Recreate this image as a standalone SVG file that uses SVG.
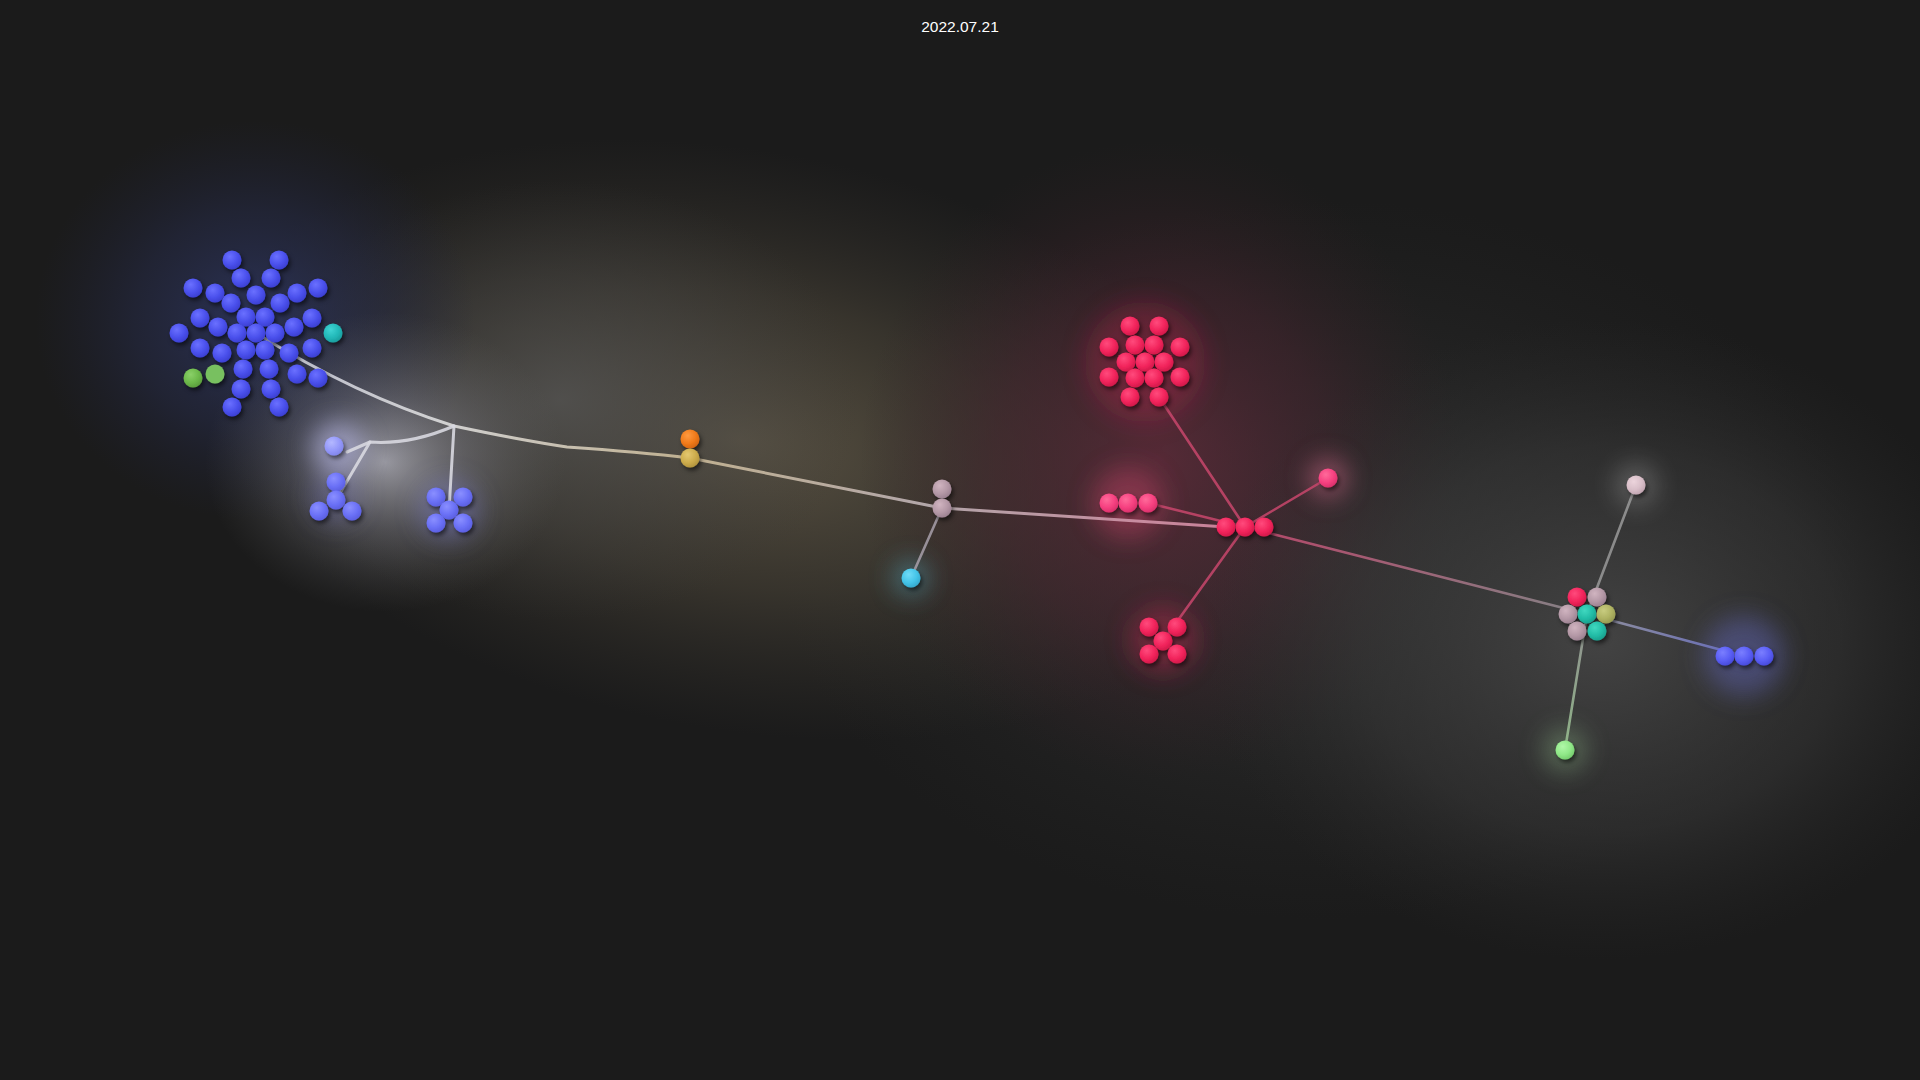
<svg xmlns="http://www.w3.org/2000/svg" width="1920" height="1080" viewBox="0 0 1920 1080">
<defs>
<radialGradient id="bgBrown" cx="0.5" cy="0.5" r="0.5"><stop offset="0" stop-color="#5e5646" stop-opacity="0.95"/><stop offset="0.5" stop-color="#4a4438" stop-opacity="0.6"/><stop offset="1" stop-color="#3a3630" stop-opacity="0"/></radialGradient>
<radialGradient id="bgGrayL" cx="0.5" cy="0.5" r="0.5"><stop offset="0" stop-color="#555555" stop-opacity="0.75"/><stop offset="0.55" stop-color="#464646" stop-opacity="0.4"/><stop offset="1" stop-color="#3a3a3a" stop-opacity="0"/></radialGradient>
<radialGradient id="bgBlue" cx="0.5" cy="0.5" r="0.5"><stop offset="0" stop-color="#2e3660" stop-opacity="0.9"/><stop offset="0.55" stop-color="#262b48" stop-opacity="0.55"/><stop offset="1" stop-color="#20233a" stop-opacity="0"/></radialGradient>
<radialGradient id="bgWhite" cx="0.5" cy="0.5" r="0.5"><stop offset="0" stop-color="#c4c4d0" stop-opacity="0.7"/><stop offset="0.45" stop-color="#8e8e9a" stop-opacity="0.38"/><stop offset="1" stop-color="#666" stop-opacity="0"/></radialGradient>
<radialGradient id="bgRed" cx="0.5" cy="0.5" r="0.5"><stop offset="0" stop-color="#5a2a38" stop-opacity="0.9"/><stop offset="0.55" stop-color="#45242e" stop-opacity="0.55"/><stop offset="1" stop-color="#302024" stop-opacity="0"/></radialGradient>
<radialGradient id="bgGray" cx="0.5" cy="0.5" r="0.5"><stop offset="0" stop-color="#474747" stop-opacity="0.9"/><stop offset="0.6" stop-color="#383838" stop-opacity="0.55"/><stop offset="1" stop-color="#2a2a2a" stop-opacity="0"/></radialGradient>
<radialGradient id="bgMid" cx="0.5" cy="0.5" r="0.5"><stop offset="0" stop-color="#363636" stop-opacity="0.85"/><stop offset="1" stop-color="#2a2a2a" stop-opacity="0"/></radialGradient>
<filter id="glow" x="-100%" y="-100%" width="300%" height="300%"><feGaussianBlur stdDeviation="12"/></filter>
<filter id="shadow" x="-50%" y="-50%" width="200%" height="200%"><feDropShadow dx="2" dy="3" stdDeviation="2" flood-color="#000" flood-opacity="0.55"/></filter>
<radialGradient id="gBlue" cx="0.38" cy="0.32" r="0.72"><stop offset="0" stop-color="#6a70ff"/><stop offset="0.6" stop-color="#4a50ec"/><stop offset="1" stop-color="#3a3ed0"/></radialGradient>
<radialGradient id="gLBlue" cx="0.38" cy="0.32" r="0.72"><stop offset="0" stop-color="#8a8fff"/><stop offset="0.6" stop-color="#6a70f6"/><stop offset="1" stop-color="#5a5ee0"/></radialGradient>
<radialGradient id="gPale" cx="0.38" cy="0.32" r="0.72"><stop offset="0" stop-color="#b4b8ff"/><stop offset="0.6" stop-color="#9498fa"/><stop offset="1" stop-color="#8084ea"/></radialGradient>
<radialGradient id="gTeal" cx="0.38" cy="0.32" r="0.72"><stop offset="0" stop-color="#40d4d4"/><stop offset="0.6" stop-color="#22b8b8"/><stop offset="1" stop-color="#1a9c9c"/></radialGradient>
<radialGradient id="gGreen" cx="0.38" cy="0.32" r="0.72"><stop offset="0" stop-color="#8ad068"/><stop offset="0.6" stop-color="#6cb84a"/><stop offset="1" stop-color="#5a9c3c"/></radialGradient>
<radialGradient id="gOrange" cx="0.38" cy="0.32" r="0.72"><stop offset="0" stop-color="#ff9a40"/><stop offset="0.6" stop-color="#f07a1a"/><stop offset="1" stop-color="#d06410"/></radialGradient>
<radialGradient id="gYellow" cx="0.38" cy="0.32" r="0.72"><stop offset="0" stop-color="#e4c870"/><stop offset="0.6" stop-color="#ccac4c"/><stop offset="1" stop-color="#b0923c"/></radialGradient>
<radialGradient id="gPG" cx="0.38" cy="0.32" r="0.72"><stop offset="0" stop-color="#d0b4c0"/><stop offset="0.6" stop-color="#b498a6"/><stop offset="1" stop-color="#9a8090"/></radialGradient>
<radialGradient id="gCyan" cx="0.38" cy="0.32" r="0.72"><stop offset="0" stop-color="#70dcf8"/><stop offset="0.6" stop-color="#44c4e8"/><stop offset="1" stop-color="#34a8cc"/></radialGradient>
<radialGradient id="gRed" cx="0.38" cy="0.32" r="0.72"><stop offset="0" stop-color="#ff4a7c"/><stop offset="0.6" stop-color="#f2245c"/><stop offset="1" stop-color="#d01848"/></radialGradient>
<radialGradient id="gPink" cx="0.38" cy="0.32" r="0.72"><stop offset="0" stop-color="#ff6a9a"/><stop offset="0.6" stop-color="#f64080"/><stop offset="1" stop-color="#d8306a"/></radialGradient>
<radialGradient id="gPaleP" cx="0.38" cy="0.32" r="0.72"><stop offset="0" stop-color="#ecd4dc"/><stop offset="0.6" stop-color="#d8bec8"/><stop offset="1" stop-color="#c0a4b0"/></radialGradient>
<radialGradient id="gOlive" cx="0.38" cy="0.32" r="0.72"><stop offset="0" stop-color="#c8cc80"/><stop offset="0.6" stop-color="#aeb262"/><stop offset="1" stop-color="#949850"/></radialGradient>
<radialGradient id="gTeal2" cx="0.38" cy="0.32" r="0.72"><stop offset="0" stop-color="#40d8c0"/><stop offset="0.6" stop-color="#22bca6"/><stop offset="1" stop-color="#1a9e8c"/></radialGradient>
<radialGradient id="gLGreen" cx="0.38" cy="0.32" r="0.72"><stop offset="0" stop-color="#b0f8a8"/><stop offset="0.6" stop-color="#90e888"/><stop offset="1" stop-color="#74cc6c"/></radialGradient>
<radialGradient id="gRBlue" cx="0.38" cy="0.32" r="0.72"><stop offset="0" stop-color="#7a7eff"/><stop offset="0.6" stop-color="#5a5ef5"/><stop offset="1" stop-color="#4649da"/></radialGradient>
<linearGradient id="eMain" gradientUnits="userSpaceOnUse" x1="260" y1="340" x2="1226" y2="527"><stop offset="0" stop-color="#c8cad8"/><stop offset="0.2" stop-color="#dedede"/><stop offset="0.45" stop-color="#cdbc9a"/><stop offset="0.7" stop-color="#c0b4b8"/><stop offset="1" stop-color="#d88aa4"/></linearGradient>
<linearGradient id="eRight" gradientUnits="userSpaceOnUse" x1="1245" y1="527" x2="1587" y2="614"><stop offset="0" stop-color="#c44a70"/><stop offset="1" stop-color="#8c8a8e"/></linearGradient>
<linearGradient id="eBlueR" gradientUnits="userSpaceOnUse" x1="1587" y1="614" x2="1744" y2="656"><stop offset="0" stop-color="#9a9aa6"/><stop offset="1" stop-color="#6a70c8"/></linearGradient>
<linearGradient id="eGreen" gradientUnits="userSpaceOnUse" x1="1587" y1="614" x2="1565" y2="750"><stop offset="0" stop-color="#9a9a9a"/><stop offset="1" stop-color="#98c090"/></linearGradient>
</defs>
<style>
.edge{fill:none;stroke-linecap:round;stroke-linejoin:round}
.main{stroke:url(#eMain);stroke-width:3;opacity:0.9}
.sub{stroke:#d8d8e0;stroke-width:3;opacity:0.9}
.red{stroke:#c8466c;stroke-width:2.6;opacity:0.85}
.gray{stroke:#9a9a9a;stroke-width:2.6;opacity:0.85}
.c-blue{fill:url(#gBlue)}
.c-lblue{fill:url(#gLBlue)}
.c-pale{fill:url(#gPale)}
.c-teal{fill:url(#gTeal)}
.c-green{fill:url(#gGreen)}
.c-orange{fill:url(#gOrange)}
.c-yellow{fill:url(#gYellow)}
.c-pg{fill:url(#gPG)}
.c-cyan{fill:url(#gCyan)}
.c-red{fill:url(#gRed)}
.c-pink{fill:url(#gPink)}
.c-palep{fill:url(#gPaleP)}
.c-olive{fill:url(#gOlive)}
.c-teal2{fill:url(#gTeal2)}
.c-lgreen{fill:url(#gLGreen)}
.c-rblue{fill:url(#gRBlue)}
.node{filter:url(#shadow)}
.title{font-family:"Liberation Sans",Arial,sans-serif;font-size:15.5px;fill:#ffffff;text-anchor:middle}
</style>
<rect width="1920" height="1080" fill="#1b1b1b"/>
<g id="background-glows">
<ellipse cx="1320" cy="560" rx="540" ry="360" fill="url(#bgMid)"/>
<ellipse cx="740" cy="440" rx="540" ry="290" fill="url(#bgBrown)" transform="rotate(10 740 440)"/>
<ellipse cx="560" cy="400" rx="300" ry="220" fill="url(#bgGrayL)"/>
<ellipse cx="255" cy="320" rx="220" ry="200" fill="url(#bgBlue)"/>
<ellipse cx="1160" cy="460" rx="300" ry="320" fill="url(#bgRed)"/>
<ellipse cx="1600" cy="640" rx="400" ry="320" fill="url(#bgGray)"/>
<ellipse cx="385" cy="462" rx="180" ry="150" fill="url(#bgWhite)"/>
</g>
<g id="node-glows" filter="url(#glow)">
<circle cx="338" cy="448" r="26" fill="#c8c8ff" opacity="0.5"/>
<circle cx="449" cy="510" r="30" fill="#8a8eff" opacity="0.3"/>
<circle cx="336" cy="498" r="26" fill="#8a8eff" opacity="0.2"/>
<circle cx="911" cy="578" r="18" fill="#60d0f0" opacity="0.35"/>
<circle cx="1145" cy="362" r="60" fill="#f02a60" opacity="0.22"/>
<circle cx="1128" cy="503" r="36" fill="#f04a78" opacity="0.32"/>
<circle cx="1163" cy="640" r="34" fill="#f02a60" opacity="0.3"/>
<circle cx="1328" cy="478" r="20" fill="#ff80a8" opacity="0.4"/>
<circle cx="1636" cy="485" r="22" fill="#ffffff" opacity="0.2"/>
<circle cx="1565" cy="750" r="22" fill="#c0ffb8" opacity="0.25"/>
<circle cx="1744" cy="656" r="40" fill="#7a80ff" opacity="0.3"/>
</g>
<g id="connectors">
<path class="edge main" d="M256,333 Q355,395 454,426 Q520,440 567,447 Q640,452 690,458 L942,508 L1226,527"/>
<path class="edge sub" d="M454,426 Q410,445 370,442 L347,452"/>
<path class="edge sub" d="M370,442 L336,500"/>
<path class="edge sub" d="M454,426 L449,510"/>
<path class="edge gray" d="M942,508 L911,578" style="stroke:#a8a0aa"/>
<path class="edge red" d="M1148,503 L1245,527"/>
<path class="edge red" d="M1159,397 L1245,527"/>
<path class="edge red" d="M1245,527 L1328,478"/>
<path class="edge red" d="M1245,527 L1163,641"/>
<path class="edge" d="M1245,527 L1587,614" style="stroke:url(#eRight);stroke-width:2.6;opacity:0.9"/>
<path class="edge gray" d="M1587,614 L1636,485"/>
<path class="edge" d="M1587,614 L1744,656" style="stroke:url(#eBlueR);stroke-width:2.6;opacity:0.9"/>
<path class="edge" d="M1587,614 L1565,750" style="stroke:url(#eGreen);stroke-width:2.6;opacity:0.9"/>
</g>
<g id="nodes">
<g id="blue-cluster" class="node">
<circle class="c-blue" cx="232" cy="260" r="9.5"/><circle class="c-blue" cx="279" cy="260" r="9.5"/>
<circle class="c-blue" cx="241" cy="278" r="9.5"/><circle class="c-blue" cx="271" cy="278" r="9.5"/>
<circle class="c-blue" cx="193" cy="288" r="9.5"/><circle class="c-blue" cx="215" cy="293" r="9.5"/>
<circle class="c-blue" cx="256" cy="295" r="9.5"/><circle class="c-blue" cx="297" cy="293" r="9.5"/>
<circle class="c-blue" cx="318" cy="288" r="9.5"/><circle class="c-blue" cx="231" cy="303" r="9.5"/>
<circle class="c-blue" cx="280" cy="303" r="9.5"/><circle class="c-blue" cx="200" cy="318" r="9.5"/>
<circle class="c-blue" cx="246" cy="317" r="9.5"/><circle class="c-blue" cx="265" cy="317" r="9.5"/>
<circle class="c-blue" cx="312" cy="318" r="9.5"/><circle class="c-blue" cx="179" cy="333" r="9.5"/>
<circle class="c-blue" cx="218" cy="327" r="9.5"/><circle class="c-blue" cx="237" cy="333" r="9.5"/>
<circle class="c-blue" cx="256" cy="333" r="9.5"/><circle class="c-blue" cx="275" cy="333" r="9.5"/>
<circle class="c-blue" cx="294" cy="327" r="9.5"/><circle class="c-blue" cx="200" cy="348" r="9.5"/>
<circle class="c-blue" cx="222" cy="353" r="9.5"/><circle class="c-blue" cx="246" cy="350" r="9.5"/>
<circle class="c-blue" cx="265" cy="350" r="9.5"/><circle class="c-blue" cx="289" cy="353" r="9.5"/>
<circle class="c-blue" cx="312" cy="348" r="9.5"/><circle class="c-blue" cx="243" cy="369" r="9.5"/>
<circle class="c-blue" cx="269" cy="369" r="9.5"/><circle class="c-blue" cx="297" cy="374" r="9.5"/>
<circle class="c-blue" cx="318" cy="378" r="9.5"/><circle class="c-blue" cx="241" cy="389" r="9.5"/>
<circle class="c-blue" cx="271" cy="389" r="9.5"/><circle class="c-blue" cx="232" cy="407" r="9.5"/>
<circle class="c-blue" cx="279" cy="407" r="9.5"/>
<circle class="c-teal" cx="333" cy="333" r="9.5"/>
<circle class="c-green" cx="193" cy="378" r="9.5"/><circle class="c-green" cx="215" cy="374" r="9.5" style="fill:#78c060"/>
</g>
<g id="pale-blue-single" class="node"><circle class="c-pale" cx="334" cy="446" r="9.5"/></g>
<g id="blue-group-4" class="node">
<circle class="c-lblue" cx="336" cy="482" r="9.5"/><circle class="c-lblue" cx="336" cy="500" r="9.5"/>
<circle class="c-lblue" cx="319" cy="511" r="9.5"/><circle class="c-lblue" cx="352" cy="511" r="9.5"/>
</g>
<g id="blue-group-5" class="node">
<circle class="c-lblue" cx="436" cy="497" r="9.5"/><circle class="c-lblue" cx="463" cy="497" r="9.5"/>
<circle class="c-lblue" cx="449" cy="510" r="9.5"/><circle class="c-lblue" cx="436" cy="523" r="9.5"/>
<circle class="c-lblue" cx="463" cy="523" r="9.5"/>
</g>
<g id="orange-yellow" class="node">
<circle class="c-orange" cx="690" cy="439" r="9.5"/><circle class="c-yellow" cx="690" cy="458" r="9.5"/>
</g>
<g id="gray-pair" class="node">
<circle class="c-pg" cx="942" cy="489" r="9.5"/><circle class="c-pg" cx="942" cy="508" r="9.5"/>
</g>
<g id="cyan-single" class="node"><circle class="c-cyan" cx="911" cy="578" r="9.5"/></g>
<g id="red-cluster" class="node">
<circle class="c-red" cx="1130" cy="326" r="9.5"/><circle class="c-red" cx="1159" cy="326" r="9.5"/>
<circle class="c-red" cx="1109" cy="347" r="9.5"/><circle class="c-red" cx="1135" cy="345" r="9.5"/>
<circle class="c-red" cx="1154" cy="345" r="9.5"/><circle class="c-red" cx="1180" cy="347" r="9.5"/>
<circle class="c-red" cx="1126" cy="362" r="9.5"/><circle class="c-red" cx="1145" cy="362" r="9.5"/>
<circle class="c-red" cx="1164" cy="362" r="9.5"/><circle class="c-red" cx="1109" cy="377" r="9.5"/>
<circle class="c-red" cx="1135" cy="378" r="9.5"/><circle class="c-red" cx="1154" cy="378" r="9.5"/>
<circle class="c-red" cx="1180" cy="377" r="9.5"/><circle class="c-red" cx="1130" cy="397" r="9.5"/>
<circle class="c-red" cx="1159" cy="397" r="9.5"/>
</g>
<g id="red-row" class="node">
<circle class="c-pink" cx="1109" cy="503" r="9.5"/><circle class="c-pink" cx="1128" cy="503" r="9.5"/><circle class="c-pink" cx="1148" cy="503" r="9.5"/>
</g>
<g id="red-hub" class="node">
<circle class="c-red" cx="1226" cy="527" r="9.5"/><circle class="c-red" cx="1245" cy="527" r="9.5"/><circle class="c-red" cx="1264" cy="527" r="9.5"/>
</g>
<g id="pink-single" class="node"><circle class="c-pink" cx="1328" cy="478" r="9.5"/></g>
<g id="red-x" class="node">
<circle class="c-red" cx="1149" cy="627" r="9.5"/><circle class="c-red" cx="1177" cy="627" r="9.5"/>
<circle class="c-red" cx="1163" cy="641" r="9.5"/><circle class="c-red" cx="1149" cy="654" r="9.5"/>
<circle class="c-red" cx="1177" cy="654" r="9.5"/>
</g>
<g id="mixed-cluster" class="node">
<circle class="c-red" cx="1577" cy="597" r="9.5"/><circle class="c-pg" cx="1597" cy="597" r="9.5"/>
<circle class="c-pg" cx="1568" cy="614" r="9.5"/><circle class="c-teal2" cx="1587" cy="614" r="9.5"/>
<circle class="c-olive" cx="1606" cy="614" r="9.5"/><circle class="c-pg" cx="1577" cy="631" r="9.5"/>
<circle class="c-teal2" cx="1597" cy="631" r="9.5"/>
</g>
<g id="pale-pink-single" class="node"><circle class="c-palep" cx="1636" cy="485" r="9.5"/></g>
<g id="blue-row" class="node">
<circle class="c-rblue" cx="1725" cy="656" r="9.5"/><circle class="c-rblue" cx="1744" cy="656" r="9.5"/><circle class="c-rblue" cx="1764" cy="656" r="9.5"/>
</g>
<g id="green-single" class="node"><circle class="c-lgreen" cx="1565" cy="750" r="9.5"/></g>
</g>
<text class="title" x="960" y="32">2022.07.21</text>
</svg>
